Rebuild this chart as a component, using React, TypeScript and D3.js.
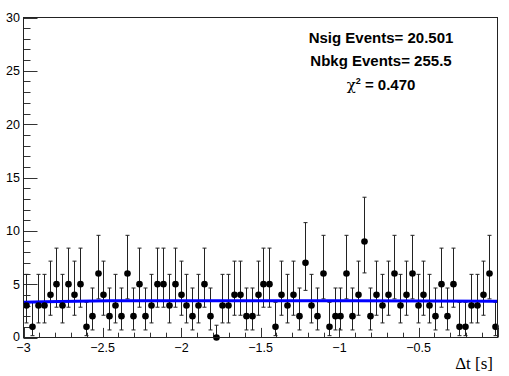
import React from "react";
import * as d3 from "d3";

// Bin counts (80 bins from -3 to 0)
const counts: number[] = [
  3, 1, 3, 3, 4, 5, 3, 5, 4, 5,
  1, 2, 6, 4, 2, 3, 2, 6, 2, 5,
  2, 3, 5, 5, 3, 5, 4, 3, 2, 3,
  5, 2, 0, 3, 3, 4, 4, 2, 2, 4,
  5, 5, 1, 4, 3, 4, 2, 7, 3, 2,
  6, 1, 2, 2, 6, 2, 4, 9, 2, 4,
  3, 4, 6, 3, 4, 6, 3, 4, 3, 2,
  5, 2, 5, 1, 1, 3, 3, 4, 6, 1,
];
// Poisson interval bounds by count
const poissonLow: number[] = [0, 0.173, 0.708, 1.367, 2.086, 2.84, 3.62, 4.419, 5.23, 6.055];
const poissonHigh: number[] = [1.15, 3.3, 4.64, 5.92, 7.16, 8.38, 9.58, 10.77, 11.95, 13.15];

// Fit curve samples
const fitX: number[] = [-3, -2.87, -2.46, -0.9, 0];
const fitY: number[] = [3.3, 3.36, 3.44, 3.44, 3.39];

const xMajor: number[] = [-3, -2.5, -2, -1.5, -1, -0.5];
const yMajor: number[] = [0, 5, 10, 15, 20, 25, 30];
const textLines: string[] = ["Nsig Events= 20.501", "Nbkg Events= 255.5"];
const chi2Value = "0.470";
const xTitle = "Δt [s]";

export default function App() {
  const W = 509, H = 376;
  const L = 23.5, R = 497.5, T = 17.5, B = 337.5;
  const x = d3.scaleLinear().domain([-3, 0]).range([L, R]);
  const y = d3.scaleLinear().domain([0, 30]).range([B, T]);
  const nb = counts.length;
  const bw = 3 / nb;
  const centers = counts.map((_, i) => -3 + (i + 0.5) * bw);
  const xMinor = d3.range(-3, 0.0001, 0.1).map((v) => Math.round(v * 10) / 10);
  const yMinor = d3.range(0, 31, 1);
  const line = d3.line<number>().x((d, i) => x(fitX[i])).y((d) => y(d));
  const font = "'Liberation Sans', Arial, Helvetica, sans-serif";
  const tickCol = "#333";
  return (
    <svg width={W} height={H} style={{ position: "absolute", left: 0, top: 0, background: "#fff" }}>
      <rect x={0} y={0} width={W} height={H} fill="#fff" />
      {/* y ticks */}
      {yMinor.map((v) => (
        <line key={"ym" + v} x1={L} x2={L + (v % 5 === 0 ? 14 : 7)} y1={Math.round(y(v)) + 0.5} y2={Math.round(y(v)) + 0.5} stroke={tickCol} strokeWidth={1} />
      ))}
      {/* x ticks */}
      {xMinor.map((v, i) => (
        <line key={"xm" + i} x1={Math.round(x(v)) + 0.5} x2={Math.round(x(v)) + 0.5} y1={B} y2={B - (i % 5 === 0 ? 9.6 : 4.8)} stroke={tickCol} strokeWidth={1} />
      ))}
      {yMajor.map((v) => (
        <text key={"yl" + v} x={20} y={y(v) + (v === 0 ? 3.5 : 4.5)} textAnchor="end" fontFamily={font} fontSize={12.5} fill="#000">{v}</text>
      ))}
      {xMajor.map((v) => (
        <text key={"xl" + v} x={x(v)} y={351.5} textAnchor="middle" fontFamily={font} fontSize={12.5} fill="#000">{v.toString().replace("-", "\u2212")}</text>
      ))}
      {/* error bars */}
      {counts.map((c, i) => {
        const cx = Math.round(x(centers[i])) + 0.5;
        const lo = y(poissonLow[c]);
        const hi = y(poissonHigh[c]);
        return (
          <g key={"e" + i} stroke="#222" strokeWidth={1}>
            <line x1={cx} x2={cx} y1={lo} y2={hi} />
            <line x1={cx - 2} x2={cx + 2} y1={hi} y2={hi} />
            {c > 0 && <line x1={cx - 2} x2={cx + 2} y1={lo} y2={lo} />}
          </g>
        );
      })}
      {/* fit curve */}
      <path d={line(fitY) || ""} fill="none" stroke="#0000ff" strokeWidth={3} />
      {/* markers */}
      {counts.map((c, i) => (
        <circle key={"m" + i} cx={Math.round(x(centers[i])) + 0.5} cy={y(c)} r={3.3} fill="#000" />
      ))}
      {/* frame */}
      <rect x={L} y={T} width={R - L} height={B - T} fill="none" stroke="#222" strokeWidth={1} />
      {/* text */}
      {textLines.map((t, i) => (
        <text key={"t" + i} x={381} y={42.5 + i * 23.5} textAnchor="middle" fontFamily={font} fontWeight="bold" fontSize={15} fill="#000">{t}</text>
      ))}
      <text x={381} y={89.5} textAnchor="middle" fontFamily={font} fontWeight="bold" fontSize={15} fill="#000">
        <tspan fontWeight="normal" fontFamily="'DejaVu Serif', serif" fontStyle="normal">χ</tspan>
        <tspan fontSize={9} dy={-6}>2</tspan>
        <tspan dy={6}>{" = " + chi2Value}</tspan>
      </text>
      <text x={493} y={369} textAnchor="end" fontFamily="'Liberation Serif', 'Times New Roman', serif" fontSize={17} fill="#000">{xTitle}</text>
    </svg>
  );
}
